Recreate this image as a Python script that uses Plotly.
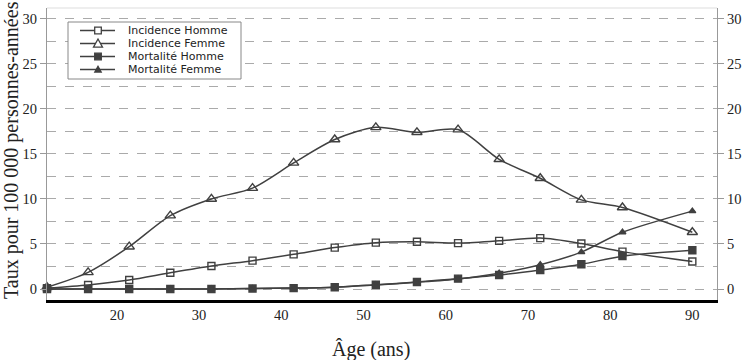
import plotly.graph_objects as go

ages = [11.5, 16.5, 21.5, 26.5, 31.5, 36.5, 41.5, 46.5, 51.5, 56.5, 61.5, 66.5, 71.5, 76.5, 81.5, 90]
incidence_homme = [0.1, 0.45, 1.0, 1.8, 2.55, 3.15, 3.85, 4.6, 5.15, 5.25, 5.1, 5.35, 5.65, 5.05, 4.15, 3.05]
incidence_femme = [0.2, 1.85, 4.7, 8.15, 10.0, 11.2, 14.0, 16.6, 17.95, 17.4, 17.7, 14.4, 12.3, 9.9, 9.05, 6.3]
mortalite_homme = [0.0, 0.0, 0.0, 0.0, 0.0, 0.05, 0.1, 0.2, 0.48, 0.78, 1.15, 1.55, 2.1, 2.75, 3.65, 4.3]
mortalite_femme = [0.0, 0.0, 0.0, 0.0, 0.0, 0.05, 0.1, 0.2, 0.45, 0.75, 1.12, 1.75, 2.7, 4.1, 6.3, 8.65]
series_names = ["Incidence Homme", "Incidence Femme", "Mortalité Homme", "Mortalité Femme"]
y_ticks = [0, 5, 10, 15, 20, 25, 30]
x_ticks = [20, 30, 40, 50, 60, 70, 80, 90]
x_title = "Âge (ans)"
y_title = "Taux pour 100 000 personnes-années"

LC = "#404040"
SERIF = "Liberation Serif, serif"
SANS = "DejaVu Sans, sans-serif"

W, H = 755, 360
ML, MR, MT, MB = 47, 38, 8, 60
PW, PH = W - ML - MR, H - MT - MB


def px(x):
    return (x - ML) / PW


def py(y):
    return (H - MB - y) / PH


fig = go.Figure()
styles = [
    ("square-open", 7),
    ("triangle-up-open", 9),
    ("square", 7),
    ("triangle-up", 6),
]
for name, vals, (sym, size) in zip(series_names,
                                   [incidence_homme, incidence_femme, mortalite_homme, mortalite_femme],
                                   styles):
    fig.add_trace(go.Scatter(
        x=ages, y=vals, name=name, mode="lines+markers", showlegend=False,
        line=dict(color=LC, width=1.5, shape="spline", smoothing=0.8),
        marker=dict(symbol=sym, size=size, color=LC, line=dict(color=LC, width=1.4)),
        cliponaxis=False,
    ))
fig.add_trace(go.Scatter(x=[ages[0]], y=[0], yaxis="y2", mode="markers",
                         marker=dict(opacity=0), showlegend=False, hoverinfo="skip"))

# manual compact legend (layout decoration)
shapes = [
    dict(type="line", xref="paper", yref="paper", x0=0, x1=1, y0=1, y1=1,
         line=dict(color="#dddddd", width=1)),
    dict(type="rect", xref="paper", yref="paper", x0=px(68), x1=px(241), y0=py(22), y1=py(79),
         line=dict(color="#888888", width=1), fillcolor="white", layer="above"),
]
annotations = []
rows = [30.5, 43.5, 56.5, 69.5]
for i, (name, y) in enumerate(zip(series_names, rows)):
    shapes.append(dict(type="line", xref="paper", yref="paper", x0=px(80), x1=px(115),
                       y0=py(y), y1=py(y), line=dict(color=LC, width=1.5), layer="above"))
    cx = 98
    if i in (0, 2):
        s = 3.3
        shapes.append(dict(type="rect", xref="paper", yref="paper", x0=px(cx - s), x1=px(cx + s),
                           y0=py(y + s), y1=py(y - s), layer="above",
                           line=dict(color=LC, width=1.3),
                           fillcolor="white" if i == 0 else LC))
    else:
        s = 4.5 if i == 1 else 3.2
        path = "M {},{} L {},{} L {},{} Z".format(px(cx - s), py(y + s * 0.8), px(cx + s), py(y + s * 0.8),
                                                  px(cx), py(y - s))
        shapes.append(dict(type="path", xref="paper", yref="paper", path=path, layer="above",
                           line=dict(color=LC, width=1.3), fillcolor="white" if i == 1 else LC))
    annotations.append(dict(xref="paper", yref="paper", x=px(127), y=py(y), xanchor="left",
                            yanchor="middle", text=name, showarrow=False, borderpad=0,
                            font=dict(family=SANS, size=11, color="#222")))

# axis titles
annotations.append(dict(xref="paper", yref="paper", x=px(371), y=py(349), xanchor="center",
                        yanchor="middle", text=x_title, showarrow=False,
                        font=dict(family=SERIF, size=20, color="#222")))
annotations.append(dict(xref="paper", yref="paper", x=px(12), y=py(150), xanchor="center",
                        yanchor="middle", text=y_title, showarrow=False, textangle=-90,
                        font=dict(family=SERIF, size=20, color="#222")))

yr = [-1.22, 31.2]
fig.update_layout(
    width=W, height=H,
    margin=dict(l=ML, r=MR, t=MT, b=MB),
    paper_bgcolor="white", plot_bgcolor="white",
    font=dict(family=SERIF, size=14, color="#222"),
    showlegend=False,
    xaxis=dict(range=[11.5, 93], tickvals=x_ticks, ticks="", showgrid=False, automargin=False,
               showline=True, linecolor="black", linewidth=2.5, zeroline=False,
               tickfont=dict(family=SERIF, size=14.5)),
    yaxis=dict(range=yr, tickvals=y_ticks, ticks="outside", ticklen=6, tickcolor="#999",
               showline=True, linecolor="#999", linewidth=1, zeroline=False, automargin=False,
               showgrid=True, gridcolor="#aaa", griddash="dash", gridwidth=1,
               minor=dict(dtick=2.5, tick0=0, showgrid=True, gridcolor="#aaa", griddash="dash", ticks=""),
               tickfont=dict(family=SERIF, size=14.5)),
    yaxis2=dict(range=yr, tickvals=y_ticks, overlaying="y", side="right", ticks="outside",
                ticklen=6, tickcolor="#999", showline=True, linecolor="#999", linewidth=1,
                automargin=False, showgrid=False, zeroline=False, tickfont=dict(family=SERIF, size=14.5)),
    shapes=shapes,
    annotations=annotations,
)
fig.write_html("out.html", post_script="document.body.style.margin='0';",
               config={"displayModeBar": False})
